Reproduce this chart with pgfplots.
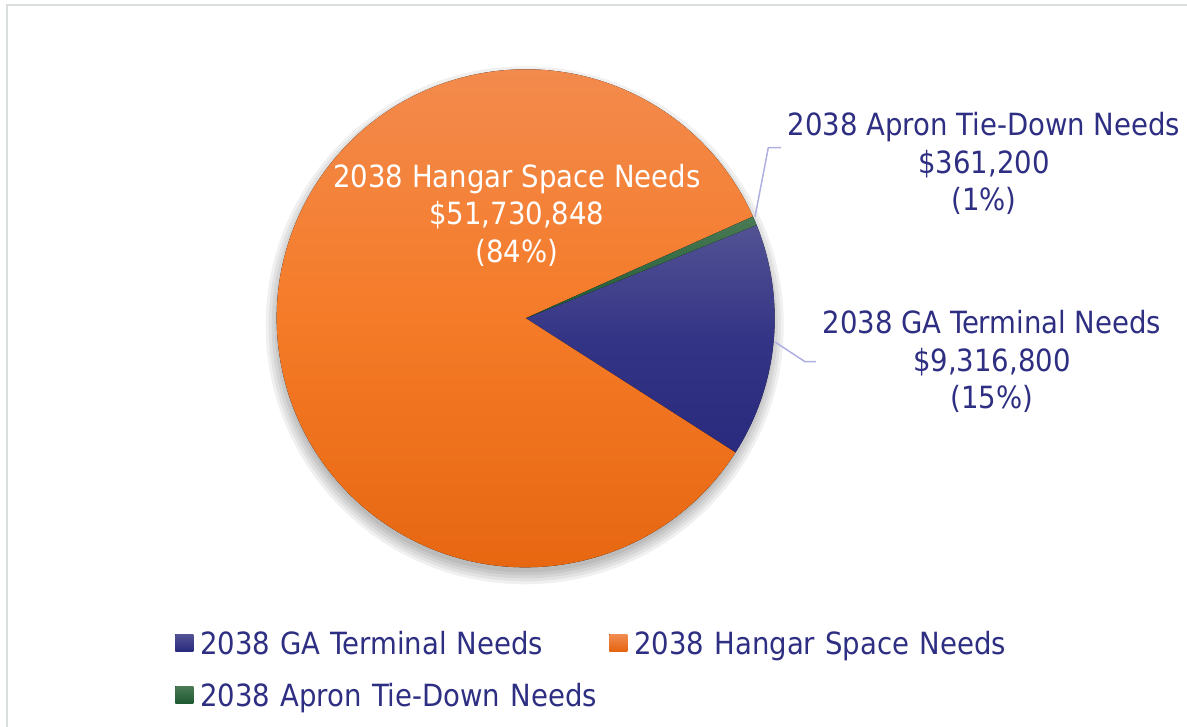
\documentclass[border=0pt]{standalone}
\usepackage{pgfplots}
\pgfplotsset{compat=1.18}
\usepackage{pgfplotstable}
\usepackage{fontspec}
\setmainfont{DejaVu Sans Condensed}
\definecolor{navy}{RGB}{46,46,130}
\definecolor{leader}{RGB}{175,175,225}
\definecolor{frame}{RGB}{218,222,222}
\definecolor{orT}{RGB}{242,140,82}
\definecolor{orM}{RGB}{245,123,40}
\definecolor{orB}{RGB}{229,100,14}
\definecolor{blT}{RGB}{82,82,148}
\definecolor{blM}{RGB}{52,52,134}
\definecolor{blB}{RGB}{42,42,126}
\definecolor{grT}{RGB}{74,122,85}
\definecolor{grB}{RGB}{30,90,50}

\pgfplotstableread{
name value
GA 9316800
Hangar 51730848
Apron 361200
}\piedata

\pgfplotstablegetelem{0}{value}\of\piedata\edef\vA{\pgfplotsretval}
\pgfplotstablegetelem{1}{value}\of\piedata\edef\vB{\pgfplotsretval}
\pgfplotstablegetelem{2}{value}\of\piedata\edef\vC{\pgfplotsretval}
\def\startA{22}
\begingroup
\pgfkeys{/pgf/fpu=true,/pgf/fpu/output format=fixed}
\pgfmathparse{\startA-360*\vA/(\vA+\vB+\vC)}\xdef\endA{\pgfmathresult}
\pgfmathparse{\endA-360*\vB/(\vA+\vB+\vC)}\xdef\endB{\pgfmathresult}
\pgfmathparse{\endB-360*\vC/(\vA+\vB+\vC)}\xdef\endC{\pgfmathresult}
\endgroup

\def\cx{525.7}
\def\cy{408.7}
\def\R{249}

\newcommand{\lblfont}{\fontsize{15.3pt}{19pt}\selectfont}

\begin{document}
\begin{tikzpicture}
\begin{axis}[
  x=0.5pt, y=0.5pt,
  xmin=0, xmax=1187, ymin=0, ymax=727,
  hide axis, clip=false,
  at={(0,0)}, anchor=origin,
  legend columns=2,
  legend cell align=left,
  legend image code/.code={\fill[#1] (0pt,-4.25pt) rectangle (9pt,4.25pt);},
  legend style={draw=none, fill=none, inner sep=0pt,
    at={(axis cs:175,102.2)}, anchor=north west,
    font=\lblfont, text=navy, row sep=8.5pt,
    nodes={inner sep=0pt, text width=200pt, text height=14.5pt, text depth=3pt},
    /tikz/every odd column/.style={column sep=3.5pt},
    /tikz/every even column/.style={column sep=4.5pt}},
]
% frame
\draw[frame, line width=1pt] (axis cs:6.5,0) -- (axis cs:6.5,721.5) -- (axis cs:1187,721.5);
% shadow
\fill[black, opacity=0.06] (axis cs:{\cx-1},{\cy-7}) circle[radius=129.5pt];
\fill[black, opacity=0.06] (axis cs:{\cx-1},{\cy-7}) circle[radius=128pt];
\fill[black, opacity=0.06] (axis cs:{\cx-1},{\cy-7}) circle[radius=126.5pt];
\fill[black, opacity=0.06] (axis cs:{\cx-1},{\cy-7}) circle[radius=125pt];
\fill[black, opacity=0.06] (axis cs:{\cx-1},{\cy-7}) circle[radius=123.5pt];
% sectors
\fill[top color=blT, bottom color=blB, middle color=blM]
  (axis cs:\cx,\cy) -- (axis cs:{\cx+\R*cos(\startA)},{\cy+\R*sin(\startA)})
  arc[start angle=\startA, end angle=\endA, radius=124.5pt] -- cycle;
\fill[top color=orT, bottom color=orB, middle color=orM]
  (axis cs:\cx,\cy) -- (axis cs:{\cx+\R*cos(\endA)},{\cy+\R*sin(\endA)})
  arc[start angle=\endA, end angle=\endB, radius=124.5pt] -- cycle;
\fill[top color=grT, bottom color=grB]
  (axis cs:\cx,\cy) -- (axis cs:{\cx+\R*cos(\endB)},{\cy+\R*sin(\endB)})
  arc[start angle=\endB, end angle=\endC, radius=124.5pt] -- cycle;
% leader lines
\draw[leader, line width=0.75pt] (axis cs:755,510.3) -- (axis cs:768.3,579.3) -- (axis cs:781,579.3);
\draw[leader, line width=0.75pt] (axis cs:775,385) -- (axis cs:805,365.3) -- (axis cs:816,365.3);
% labels
\node[anchor=base, text=white, font=\lblfont, inner sep=0pt] at (axis cs:517,539.5) {2038 Hangar Space Needs};
\node[anchor=base, text=white, font=\lblfont, inner sep=0pt] at (axis cs:517,502) {\$51,730,848};
\node[anchor=base, text=white, font=\lblfont, inner sep=0pt] at (axis cs:517,464.5) {(84\%)};
\node[anchor=base, text=navy, font=\lblfont, inner sep=0pt] at (axis cs:984,591) {2038 Apron Tie-Down Needs};
\node[anchor=base, text=navy, font=\lblfont, inner sep=0pt] at (axis cs:984,553.5) {\$361,200};
\node[anchor=base, text=navy, font=\lblfont, inner sep=0pt] at (axis cs:984,516) {(1\%)};
\node[anchor=base, text=navy, font=\lblfont, inner sep=0pt] at (axis cs:992,393) {2038 GA Terminal Needs};
\node[anchor=base, text=navy, font=\lblfont, inner sep=0pt] at (axis cs:992,355.5) {\$9,316,800};
\node[anchor=base, text=navy, font=\lblfont, inner sep=0pt] at (axis cs:992,318) {(15\%)};
% legend
\addlegendimage{top color=blT, bottom color=blB, draw=none}
\addlegendentry{2038 GA Terminal Needs}
\addlegendimage{top color=orT, bottom color=orB, draw=none}
\addlegendentry{2038 Hangar Space Needs}
\addlegendimage{top color=grT, bottom color=grB, draw=none}
\addlegendentry{2038 Apron Tie-Down Needs}
\end{axis}
\pgfresetboundingbox
\useasboundingbox (0,0) rectangle (593.5pt,363.5pt);
\end{tikzpicture}
\end{document}
